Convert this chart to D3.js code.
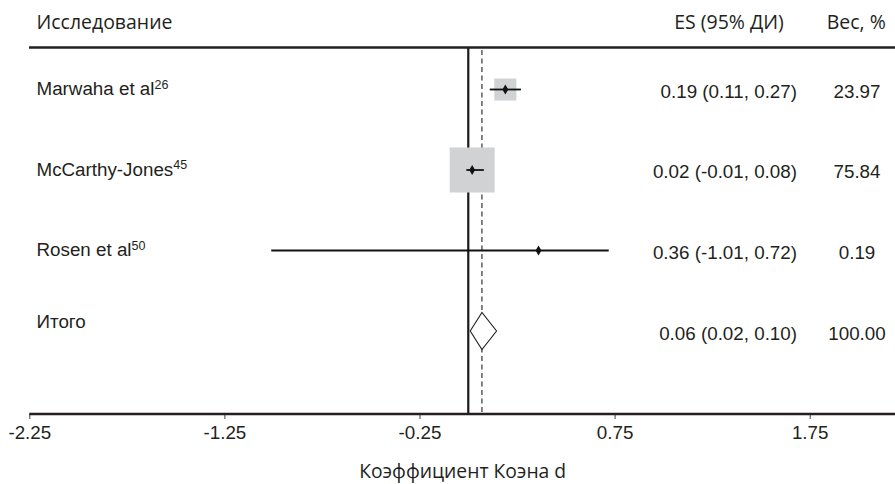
<!DOCTYPE html>
<html><head><meta charset="utf-8">
<script src="https://cdn.jsdelivr.net/npm/d3@7"></script>
<style>
html,body{margin:0;padding:0;background:#fff;}
svg{display:block;}
</style></head>
<body>
<svg id="chart" width="895" height="484"></svg>
<script>
// ---- data ----
const studies = ["Marwaha et al", "McCarthy-Jones", "Rosen et al", "Итого"];
const refs = ["26", "45", "50", ""];
const es = [0.19, 0.02, 0.36];
const ciLow = [0.11, -0.01, -1.01];
const ciHigh = [0.27, 0.08, 0.72];
const weights = [23.97, 75.84, 0.19];
const esLabels = ["0.19 (0.11, 0.27)", "0.02 (-0.01, 0.08)", "0.36 (-1.01, 0.72)", "0.06 (0.02, 0.10)"];
const weightLabels = ["23.97", "75.84", "0.19", "100.00"];
// overall diamond as drawn: [estimate, low, high]
const overall = [0.07, 0.01, 0.145];
const tickValues = [-2.25, -1.25, -0.25, 0.75, 1.75];
const tickLabels = ["-2.25", "-1.25", "-0.25", "0.75", "1.75"];
const headers = ["Исследование", "ES (95% ДИ)", "Вес, %"];
const xTitle = "Коэффициент Коэна d";

// ---- layout ----
const W = 895, H = 484;
const svg = d3.select("#chart");
const arial = "'Liberation Sans', Arial, sans-serif";
const humanist = "'Open Sans', 'Noto Sans', sans-serif";
const fs = 18.8;

const x = d3.scaleLinear().domain([-2.25, 1.75]).range([29.3, 809.7]);
const y = d3.scalePoint().domain(studies).range([89.5, 331]);
const side = d3.scalePow().exponent(0.62).domain([0, 75.84]).range([0, 45]);
const axisY = 414;

function fitFont(sel, target) {
  sel.attr("font-size", 100);
  const w = sel.node().getComputedTextLength();
  sel.attr("font-size", 100 * target / w);
}

// header
const h0 = svg.append("text").attr("x", 36.5).attr("y", 29.3)
  .attr("font-family", humanist).attr("fill", "#231f20").text(headers[0]);
fitFont(h0, 136);
const hfs = +h0.attr("font-size");
svg.append("text").attr("x", 729).attr("y", 29.3).attr("text-anchor", "middle")
  .attr("font-family", humanist).attr("font-size", hfs).attr("fill", "#231f20").text(headers[1]);
svg.append("text").attr("x", 856.3).attr("y", 29.3).attr("text-anchor", "middle")
  .attr("font-family", humanist).attr("font-size", hfs).attr("fill", "#231f20").text(headers[2]);

svg.append("line").attr("x1", 29).attr("x2", W).attr("y1", 47.5).attr("y2", 47.5)
  .attr("stroke", "#231f20").attr("stroke-width", 2.6);

// reference lines
svg.append("line").attr("x1", x(0)).attr("x2", x(0)).attr("y1", 48).attr("y2", axisY)
  .attr("stroke", "#1a1a1a").attr("stroke-width", 2.2);
svg.append("line").attr("x1", x(overall[0])).attr("x2", x(overall[0])).attr("y1", 50).attr("y2", axisY)
  .attr("stroke", "#333").attr("stroke-width", 1.2).attr("stroke-dasharray", "5,3.5");

// study boxes
const rows = studies.slice(0, 3).map((s, i) => ({s, i}));
svg.selectAll("rect.box").data(rows).join("rect").attr("class", "box")
  .attr("x", d => x(es[d.i]) - side(weights[d.i]) / 2)
  .attr("y", d => y(d.s) - side(weights[d.i]) / 2)
  .attr("width", d => side(weights[d.i]))
  .attr("height", d => side(weights[d.i]))
  .attr("fill", "#d1d2d3");

// CI lines
svg.selectAll("line.ci").data(rows).join("line").attr("class", "ci")
  .attr("x1", d => x(ciLow[d.i])).attr("x2", d => x(ciHigh[d.i]))
  .attr("y1", d => y(d.s)).attr("y2", d => y(d.s))
  .attr("stroke", "#111").attr("stroke-width", 1.8);

// point estimates
svg.selectAll("path.pt").data(rows).join("path").attr("class", "pt")
  .attr("transform", d => `translate(${x(es[d.i])},${y(d.s)})`)
  .attr("d", d3.symbol(d3.symbolDiamond, 30))
  .attr("fill", "#111");

// overall diamond
const oy = y(studies[3]);
svg.append("path")
  .attr("d", `M${x(overall[1])},${oy} L${x(overall[0])},${oy - 18.5} L${x(overall[2])},${oy} L${x(overall[0])},${oy + 18.5} Z`)
  .attr("fill", "#fff").attr("stroke", "#222").attr("stroke-width", 1.1);

// study labels
const lab = svg.selectAll("text.lab").data(studies).join("text").attr("class", "lab")
  .attr("x", 36.5)
  .attr("y", (d, i) => i < 3 ? y(d) + 5.8 : y(d) - 3.3)
  .attr("font-family", arial).attr("font-size", fs).attr("fill", "#231f20");
lab.append("tspan").text(d => d);
lab.append("tspan").attr("font-size", 12.5).attr("dy", -6.5).text((d, i) => refs[i]);

// ES labels
svg.selectAll("text.esl").data(esLabels).join("text").attr("class", "esl")
  .attr("x", 797).attr("y", (d, i) => y(studies[i]) + (i < 3 ? 8.3 : 9.2))
  .attr("text-anchor", "end")
  .attr("font-family", arial).attr("font-size", fs).attr("fill", "#231f20").text(d => d);

// weight labels
svg.selectAll("text.wl").data(weightLabels).join("text").attr("class", "wl")
  .attr("x", 857).attr("y", (d, i) => y(studies[i]) + (i < 3 ? 8.3 : 9.2))
  .attr("text-anchor", "middle")
  .attr("font-family", arial).attr("font-size", fs).attr("fill", "#231f20").text(d => d);

// axis
const axis = svg.append("g").attr("transform", `translate(0,${axisY})`)
  .call(d3.axisBottom(x).tickValues(tickValues)
    .tickFormat((d, i) => tickLabels[i]).tickSize(5).tickPadding(7).tickSizeOuter(0));
axis.select(".domain").remove();
axis.selectAll(".tick line").attr("stroke", "#444").attr("stroke-width", 1);
axis.selectAll(".tick text").attr("font-family", arial).attr("font-size", fs).attr("fill", "#231f20");
svg.append("line").attr("x1", x(-2.25)).attr("x2", W).attr("y1", axisY).attr("y2", axisY)
  .attr("stroke", "#231f20").attr("stroke-width", 2.4);

// axis title
const t = svg.append("text").attr("x", 462.7).attr("y", 478.3).attr("text-anchor", "middle")
  .attr("font-family", humanist).attr("fill", "#231f20").text(xTitle);
fitFont(t, 207);
</script>
</body></html>
